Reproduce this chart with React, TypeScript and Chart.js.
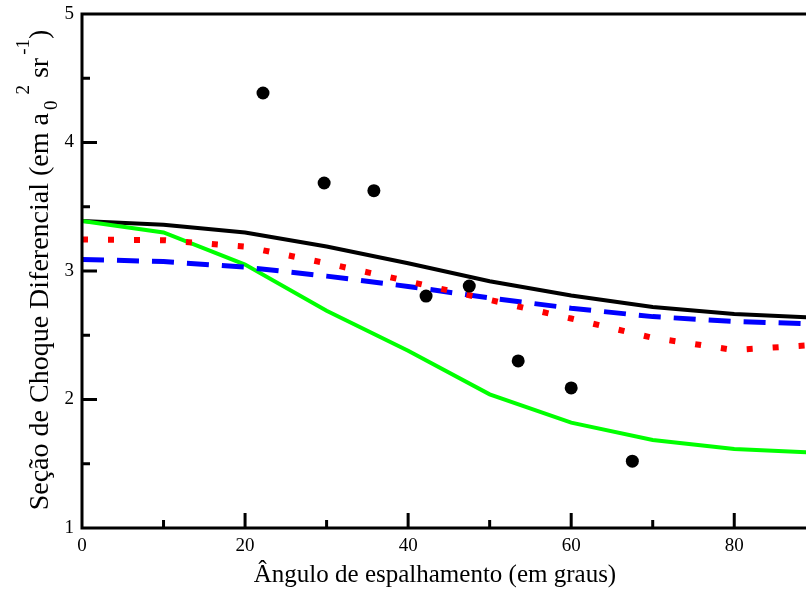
import React, { useEffect, useRef } from "react";
import { Chart, registerables } from "chart.js";

Chart.register(...registerables);

const angles = [0, 10, 20, 30, 40, 50, 60, 70, 80, 90];
const blackSolid = [3.39, 3.36, 3.3, 3.19, 3.06, 2.92, 2.81, 2.72, 2.665, 2.637];
const greenSolid = [3.39, 3.3, 3.05, 2.69, 2.38, 2.04, 1.82, 1.685, 1.615, 1.587];
const redDotted = [3.245, 3.24, 3.19, 3.06, 2.92, 2.775, 2.63, 2.48, 2.385, 2.425];
const blueDashed = [3.09, 3.073, 3.03, 2.96, 2.88, 2.79, 2.71, 2.645, 2.607, 2.588];
const expAngles = [22.2, 29.7, 35.8, 42.2, 47.5, 53.5, 60.0, 67.5];
const expValues = [4.385, 3.685, 3.625, 2.805, 2.883, 2.3, 2.09, 1.52];

const xMajor = [0, 20, 40, 60, 80];
const xMinor = [10, 30, 50, 70];
const yMajor = [1, 2, 3, 4, 5];
const yMinor = [1.5, 2.5, 3.5, 4.5];

const xTitle = "Ângulo de espalhamento (em graus)";
const yTitleParts: { t: string; k: "n" | "sub" | "sup"; gap: number }[] = [
  { t: "Seção de Choque Diferencial (em a", k: "n", gap: 0 },
  { t: "0", k: "sub", gap: 3 },
  { t: "2", k: "sup", gap: 6 },
  { t: " sr", k: "n", gap: 2 },
  { t: "-1", k: "sup", gap: 1 },
  { t: ")", k: "n", gap: 0 },
];

const FONT = "'Liberation Serif', 'Times New Roman', serif";

const pts = (xs: number[], ys: number[]) => xs.map((x, i) => ({ x, y: ys[i] }));

const framePlugin = {
  id: "frame",
  afterDraw(chart: any) {
    const { ctx, chartArea: ca, scales } = chart;
    const xs = scales.x;
    const ys = scales.y;
    ctx.save();
    ctx.strokeStyle = "#000";
    ctx.lineWidth = 3;
    ctx.lineCap = "butt";
    ctx.beginPath();
    ctx.moveTo(ca.left, ca.top);
    ctx.lineTo(ca.right + 2, ca.top);
    ctx.moveTo(ca.left, ca.top - 1.5);
    ctx.lineTo(ca.left, ca.bottom + 1.5);
    ctx.moveTo(ca.left - 1.5, ca.bottom);
    ctx.lineTo(ca.right + 2, ca.bottom);
    xMajor.forEach((v) => {
      const p = xs.getPixelForValue(v);
      ctx.moveTo(p, ca.bottom);
      ctx.lineTo(p, ca.bottom - 15);
    });
    xMinor.forEach((v) => {
      const p = xs.getPixelForValue(v);
      ctx.moveTo(p, ca.bottom);
      ctx.lineTo(p, ca.bottom - 8);
    });
    yMajor.forEach((v) => {
      const p = ys.getPixelForValue(v);
      ctx.moveTo(ca.left, p);
      ctx.lineTo(ca.left + 15, p);
    });
    yMinor.forEach((v) => {
      const p = ys.getPixelForValue(v);
      ctx.moveTo(ca.left, p);
      ctx.lineTo(ca.left + 8, p);
    });
    ctx.stroke();

    // x title
    ctx.fillStyle = "#000";
    ctx.font = `25px ${FONT}`;
    ctx.textAlign = "center";
    ctx.textBaseline = "alphabetic";
    ctx.fillText(xTitle, 435, 582);

    // y title with sub/superscripts
    const mainF = `28px ${FONT}`;
    const scriptF = `19px ${FONT}`;
    const widths = yTitleParts.map((p) => {
      ctx.font = p.k === "n" ? mainF : scriptF;
      return ctx.measureText(p.t).width + p.gap;
    });
    const total = widths.reduce((a, b) => a + b, 0);
    ctx.translate(48, 270);
    ctx.rotate(-Math.PI / 2);
    ctx.textAlign = "left";
    let x = -total / 2;
    yTitleParts.forEach((p, i) => {
      ctx.font = p.k === "n" ? mainF : scriptF;
      const dy = p.k === "sub" ? 9 : p.k === "sup" ? -19 : 0;
      ctx.fillText(p.t, x + (p.k === "n" ? 0 : p.gap), dy);
      x += widths[i];
    });
    ctx.restore();
  },
};

export default function App() {
  const ref = useRef<HTMLCanvasElement>(null);
  useEffect(() => {
    if (!ref.current) return;
    const chart = new Chart(ref.current, {
      type: "line",
      data: {
        datasets: [
          {
            type: "scatter",
            label: "Experimental",
            data: pts(expAngles, expValues),
            backgroundColor: "#000",
            borderColor: "#000",
            pointRadius: 6.5,
            pointBorderWidth: 0,
            showLine: false,
          } as any,
          {
            label: "Red dotted",
            data: pts(angles, redDotted),
            borderColor: "#ff0000",
            borderWidth: 6,
            borderDash: [6, 20],
            borderCapStyle: "butt",
            pointRadius: 0,
            tension: 0,
            fill: false,
          },
          {
            label: "Blue dashed",
            data: pts(angles, blueDashed),
            borderColor: "#0000ff",
            borderWidth: 5,
            borderDash: [22, 13],
            borderCapStyle: "butt",
            pointRadius: 0,
            tension: 0,
            fill: false,
          },
          {
            label: "Green",
            data: pts(angles, greenSolid),
            borderColor: "#00ff00",
            borderWidth: 4,
            pointRadius: 0,
            tension: 0,
            fill: false,
          },
          {
            label: "Black",
            data: pts(angles, blackSolid),
            borderColor: "#000000",
            borderWidth: 4,
            pointRadius: 0,
            tension: 0,
            fill: false,
          },
        ],
      },
      options: {
        animation: false,
        responsive: false,
        maintainAspectRatio: false,
        layout: { autoPadding: false, padding: { left: 0, right: 0, top: 14, bottom: 0 } },
        plugins: { legend: { display: false }, tooltip: { enabled: false } },
        scales: {
          x: {
            type: "linear",
            min: 0,
            max: 88.8,
            grid: { display: false, drawTicks: false },
            border: { display: false },
            afterFit: (s: any) => {
              s.height = 62;
              s.paddingLeft = 0;
              s.paddingRight = 0;
            },
            afterBuildTicks: (s: any) => {
              s.ticks = xMajor.map((v) => ({ value: v }));
            },
            ticks: {
              color: "#000",
              padding: 7,
              maxRotation: 0,
              autoSkip: false,
              font: { family: FONT, size: 19 },
            },
          },
          y: {
            type: "linear",
            min: 1,
            max: 5,
            grid: { display: false, drawTicks: false },
            border: { display: false },
            afterFit: (s: any) => {
              s.width = 82;
              s.paddingTop = 0;
              s.paddingBottom = 0;
            },
            afterBuildTicks: (s: any) => {
              s.ticks = yMajor.map((v) => ({ value: v }));
            },
            ticks: {
              color: "#000",
              padding: 8,
              autoSkip: false,
              font: { family: FONT, size: 19 },
            },
          },
        },
      } as any,
      plugins: [framePlugin],
    });
    return () => chart.destroy();
  }, []);
  return (
    <div style={{ position: "fixed", left: 0, top: 0, width: 806, height: 590, background: "#fff" }}>
      <canvas ref={ref} width={806} height={590} style={{ display: "block" }} />
    </div>
  );
}
